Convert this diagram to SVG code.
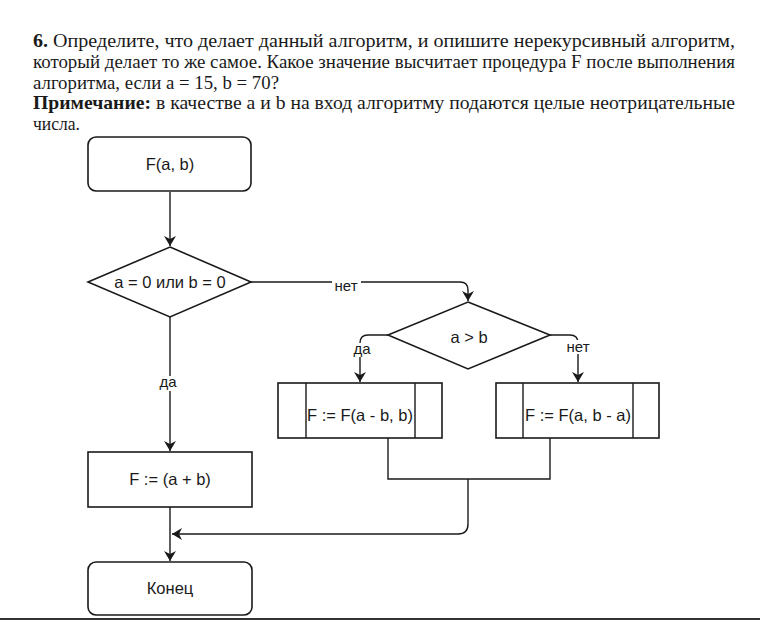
<svg xmlns="http://www.w3.org/2000/svg" width="760" height="620" viewBox="0 0 760 620">
<style>
.q{font-family:"Liberation Serif","Times New Roman",serif;font-size:19.5px;fill:#1a1a1a}
.b{font-weight:bold}
.n{fill:#fff;stroke:#1a1a1a;stroke-width:1.6}
.t{font-family:"Liberation Sans",Arial,sans-serif;font-size:16.5px;fill:#1a1a1a;text-anchor:middle}
.l{font-family:"Liberation Sans",Arial,sans-serif;font-size:15px;fill:#1a1a1a;text-anchor:middle}
.c{fill:none;stroke:#1a1a1a;stroke-width:1.4}
</style>
<defs>
<marker id="ah" viewBox="0 0 10 12" refX="10" refY="6" markerWidth="10" markerHeight="12" markerUnits="userSpaceOnUse" orient="auto">
<path d="M0,0 L10,6 L0,12 L3,6 z" fill="#1a1a1a"/>
</marker>
</defs>
<rect width="760" height="620" fill="#fff"/>
<g id="question">
<text class="q" x="33" y="47" textLength="702" lengthAdjust="spacingAndGlyphs"><tspan class="b">6.</tspan> Определите, что делает данный алгоритм, и опишите нерекурсивный алгоритм,</text>
<text class="q" x="33" y="68" textLength="702" lengthAdjust="spacingAndGlyphs">который делает то же самое. Какое значение высчитает процедура F после выполнения</text>
<text class="q" x="33" y="89" textLength="246" lengthAdjust="spacingAndGlyphs">алгоритма, если a = 15, b = 70?</text>
<text class="q" x="33" y="109" textLength="702" lengthAdjust="spacingAndGlyphs"><tspan class="b">Примечание:</tspan> в качестве a и b на вход алгоритму подаются целые неотрицательные</text>
<text class="q" x="33" y="130" textLength="47" lengthAdjust="spacingAndGlyphs">числа.</text>
</g>
<g id="connectors">
<path class="c" d="M170,192 V246" marker-end="url(#ah)"/>
<path class="c" d="M251,282 H460 Q468,282 468,290 V301" marker-end="url(#ah)"/>
<path class="c" d="M170,317 V451" marker-end="url(#ah)"/>
<path class="c" d="M388,335 H368 Q360,335 360,343 V382" marker-end="url(#ah)"/>
<path class="c" d="M550,335 H570 Q578,335 578,343 V382" marker-end="url(#ah)"/>
<path class="c" d="M388,438 V479 H550 V438"/>
<path class="c" d="M468,479 V524 Q468,534 458,534 H172" marker-end="url(#ah)"/>
<path class="c" d="M170,507 V561" marker-end="url(#ah)"/>
<rect x="332" y="278" width="29" height="14" fill="#fff"/>
<text class="l" x="346" y="291">нет</text>
<rect x="352" y="343" width="20" height="14" fill="#fff"/>
<text class="l" x="362" y="354">да</text>
<rect x="565" y="340" width="26" height="14" fill="#fff"/>
<text class="l" x="578" y="352">нет</text>
<rect x="158" y="376" width="21" height="15" fill="#fff"/>
<text class="l" x="168" y="387">да</text>
</g>
<g id="start">
<rect class="n" x="88" y="137" width="163" height="54" rx="8"/>
<text class="t" x="170" y="170">F(a, b)</text>
</g>
<g id="cond1">
<polygon class="n" points="170,247 251,282 170,317 88,282"/>
<text class="t" x="170" y="288">a = 0 или b = 0</text>
</g>
<g id="cond2">
<polygon class="n" points="468,302 550,335 468,369 388,335"/>
<text class="t" x="469" y="343">a &gt; b</text>
</g>
<g id="callLeft">
<rect class="n" x="278" y="383" width="164" height="55"/>
<path class="c" d="M306,383 V438 M415,383 V438"/>
<text class="t" x="360" y="421">F := F(a - b, b)</text>
</g>
<g id="callRight">
<rect class="n" x="496" y="383" width="163" height="55"/>
<path class="c" d="M523,383 V438 M633,383 V438"/>
<text class="t" x="578" y="421">F := F(a, b - a)</text>
</g>
<g id="assign">
<rect class="n" x="88" y="452" width="164" height="55"/>
<text class="t" x="170" y="485">F := (a + b)</text>
</g>
<g id="end">
<rect class="n" x="88" y="562" width="164" height="53" rx="8"/>
<text class="t" x="170" y="594">Конец</text>
</g>
<rect x="0" y="618" width="760" height="2" fill="#333"/>
</svg>
